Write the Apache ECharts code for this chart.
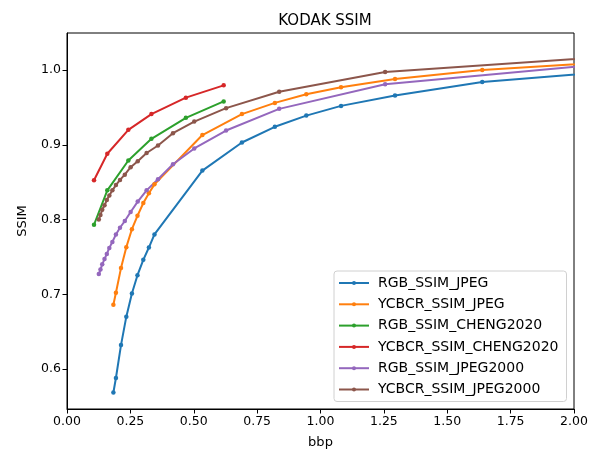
<!DOCTYPE html>
<html lang="en">
<head>
  <meta charset="UTF-8">
  <title>KODAK SSIM</title>
  <style>
    html, body { margin: 0; padding: 0; background: #fff; }
  </style>
</head>
<body>
  <div id="main" style="width: 597px; height: 455px"></div>
  <script src="https://cdn.jsdelivr.net/npm/echarts@6/dist/echarts.min.js"></script>
  <script>
    // bpp values shared by the two JPEG curves
    const jpegBpp = [0.183, 0.193, 0.213, 0.234, 0.256, 0.278, 0.301, 0.323, 0.345,
      0.534, 0.690, 0.820, 0.944, 1.081, 1.294, 1.638, 2.45];
    const rgbJpeg = [0.5686, 0.588, 0.632, 0.670, 0.701, 0.7255, 0.746, 0.7625, 0.780,
      0.8654, 0.903, 0.924, 0.939, 0.952, 0.966, 0.984, 1.0064];
    const ycbcrJpeg = [0.686, 0.702, 0.735, 0.763, 0.787, 0.805, 0.822, 0.835, 0.847,
      0.913, 0.941, 0.956, 0.9675, 0.977, 0.988, 1.0, 1.017];

    // cheng2020 model points
    const chengBpp = [0.1065, 0.159, 0.242, 0.333, 0.469, 0.618];
    const rgbCheng = [0.793, 0.839, 0.879, 0.908, 0.936, 0.958];
    const ycbcrCheng = [0.8525, 0.888, 0.920, 0.941, 0.963, 0.9795];

    // jpeg2000 points
    const j2kBpp = [0.1255, 0.132, 0.139, 0.148, 0.157, 0.167, 0.179, 0.193, 0.209, 0.228,
      0.251, 0.279, 0.314, 0.359, 0.418, 0.502, 0.6275, 0.837, 1.255, 2.51];
    const rgbJ2k = [0.727, 0.733, 0.740, 0.747, 0.754, 0.762, 0.770, 0.780, 0.789, 0.798,
      0.810, 0.824, 0.839, 0.854, 0.874, 0.895, 0.919, 0.948, 0.981, 1.020];
    const ycbcrJ2k = [0.800, 0.806, 0.813, 0.819, 0.826, 0.832, 0.839, 0.846, 0.853, 0.860,
      0.870, 0.878, 0.889, 0.899, 0.9154, 0.931, 0.949, 0.971, 0.9973, 1.0266];

    const xTicks = [0, 0.25, 0.5, 0.75, 1.0, 1.25, 1.5, 1.75, 2.0];
    const yTicks = [0.6, 0.7, 0.8, 0.9, 1.0];

    const font = 'DejaVu Sans';

    function pairs(xs, ys) {
      return xs.map((x, i) => [x, ys[i]]);
    }

    function lineSeries(name, color, xs, ys) {
      return {
        name: name,
        type: 'line',
        data: pairs(xs, ys),
        symbol: 'circle',
        symbolSize: 4.5,
        showSymbol: true,
        clip: true,
        animation: false,
        lineStyle: { color: color, width: 2 },
        itemStyle: { color: color }
      };
    }

    let myChart = echarts.init(document.getElementById('main'));
    let option = {
      animation: false,
      title: {
        text: 'KODAK SSIM',
        left: 320,
        top: 9,
        textAlign: 'center',
        textStyle: { fontFamily: font, fontSize: 15, fontWeight: 'normal', color: '#000' }
      },
      grid: {
        left: 67, right: 23, top: 33, bottom: 46,
        show: true, borderColor: '#000', borderWidth: 1,
        containLabel: false
      },
      legend: {
        orient: 'vertical',
        left: 334,
        top: 271,
        width: 232,
        backgroundColor: '#fff',
        borderColor: '#d0d0d0',
        borderWidth: 1,
        borderRadius: 3,
        padding: [5, 8, 5, 4],
        itemWidth: 30,
        itemHeight: 5,
        itemGap: 7.3,
        textStyle: { fontFamily: font, fontSize: 14, color: '#000', padding: [0, 0, 0, 4] }
      },
      xAxis: {
        type: 'value',
        min: 0,
        max: 2,
        interval: 0.25,
        name: 'bbp',
        nameLocation: 'middle',
        nameGap: 27,
        nameTextStyle: { fontFamily: font, fontSize: 13, color: '#000' },
        splitLine: { show: false },
        axisLine: { show: true, onZero: false, lineStyle: { color: '#000' } },
        axisTick: { show: true, length: 4.5, lineStyle: { color: '#000' } },
        axisLabel: {
          fontFamily: font, fontSize: 12.5, color: '#000', margin: 6,
          formatter: v => v.toFixed(2)
        }
      },
      yAxis: {
        type: 'value',
        min: 0.5465,
        max: 1.0495,
        name: 'SSIM',
        nameLocation: 'middle',
        nameRotate: 90,
        nameGap: 38,
        nameTextStyle: { fontFamily: font, fontSize: 13, color: '#000' },
        splitLine: { show: false },
        axisLine: { show: true, onZero: false, lineStyle: { color: '#000' } },
        axisTick: { show: true, length: 4.5, customValues: yTicks, lineStyle: { color: '#000' } },
        axisLabel: {
          fontFamily: font, fontSize: 12.5, color: '#000', margin: 6,
          customValues: yTicks,
          formatter: v => v.toFixed(1)
        }
      },
      series: [
        lineSeries('RGB_SSIM_JPEG', '#1f77b4', jpegBpp, rgbJpeg),
        lineSeries('YCBCR_SSIM_JPEG', '#ff7f0e', jpegBpp, ycbcrJpeg),
        lineSeries('RGB_SSIM_CHENG2020', '#2ca02c', chengBpp, rgbCheng),
        lineSeries('YCBCR_SSIM_CHENG2020', '#d62728', chengBpp, ycbcrCheng),
        lineSeries('RGB_SSIM_JPEG2000', '#9467bd', j2kBpp, rgbJ2k),
        lineSeries('YCBCR_SSIM_JPEG2000', '#8c564b', j2kBpp, ycbcrJ2k)
      ]
    };
    myChart.setOption(option);
  </script>
</body>
</html>
